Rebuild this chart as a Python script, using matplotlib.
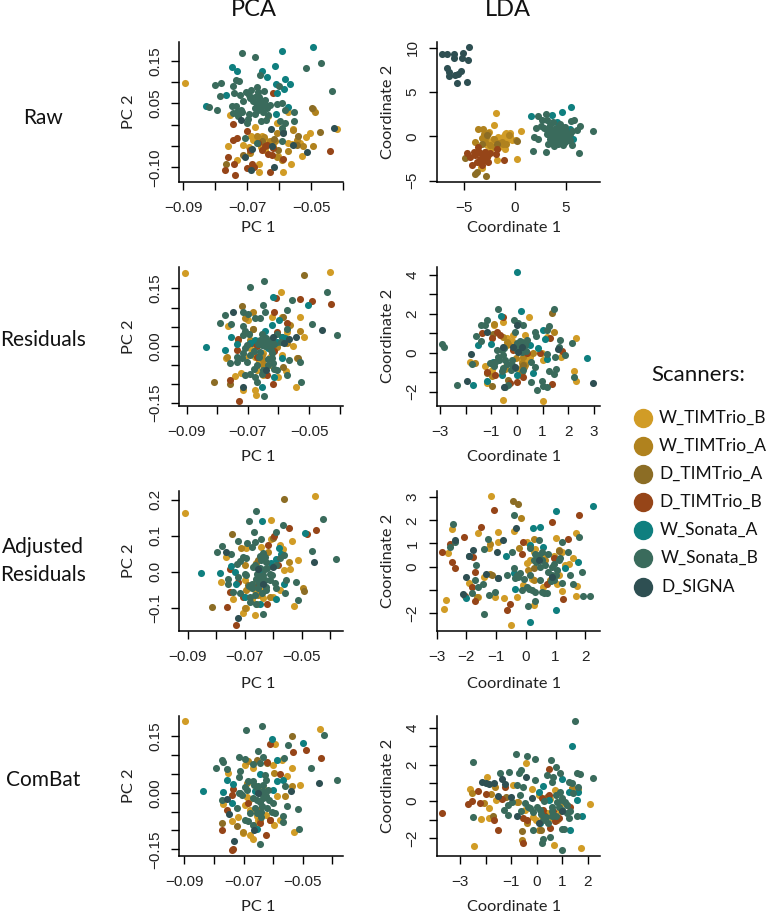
import matplotlib
matplotlib.use("Agg")
import matplotlib.pyplot as plt

W, H = 767, 913
SERIES = ["W_TIMTrio_B", "W_TIMTrio_A", "D_TIMTrio_A", "D_TIMTrio_B", "W_Sonata_A", "W_Sonata_B", "D_SIGNA"]
COLORS = ["#D19C26", "#B0821E", "#8C6D25", "#964518", "#0F7F7F", "#3A6B5C", "#2E4F52"]

# ---------- Raw PCA ----------
raw_pca_wtb = [(-.0894,.098),(-.0677,-.005),(-.069,-.026),(-.0681,-.035),(-.0712,-.047),(-.076,-.049),(-.0733,-.082),(-.0663,-.091),(-.0664,-.112),(-.059,-.112),(-.0565,-.093),(-.053,-.074),(-.0518,-.029),(-.0504,-.020),(-.0421,-.010),(-.0558,-.010),(-.0535,-.043),(-.0608,.005),(-.0635,.021),(-.0754,.023),(-.0655,-.027),(-.0645,-.059),(-.0603,-.074),(-.0573,-.043),(-.0658,-.051),(-.0572,.029),(-.0629,-.043),(-.0696,-.051),(-.0645,-.035),(-.0675,-.03),(-.0665,-.04),(-.062,-.05),(-.056,-.045)]
raw_pca_wta = [(-.0489,.030),(-.0496,.038),(-.0556,-.012),(-.0648,-.029),(-.0608,-.020),(-.0608,-.076),(-.0572,-.062),(-.0629,-.037),(-.0593,-.082),(-.0525,-.049),(-.0494,-.049),(-.0671,-.027),(-.0614,-.039),(-.0692,-.066),(-.0546,-.035)]
raw_pca_dta = [(-.0473,-.017),(-.0499,.039),(-.0766,-.091),(-.0618,-.034),(-.0655,-.039),(-.0546,-.047),(-.0603,-.059),(-.0541,-.026),(-.0712,-.070)]
raw_pca_dtb = [(-.0621,.074),(-.0745,.002),(-.0702,-.014),(-.0733,-.030),(-.0746,-.035),(-.0761,-.075),(-.0743,-.091),(-.0771,-.105),(-.074,-.119),(-.0701,-.101),(-.0686,-.092),(-.0679,-.099),(-.0629,-.112),(-.0442,-.062),(-.0666,-.043),(-.0640,-.047),(-.0634,-.068),(-.0588,-.080),(-.0692,-.060),(-.0624,-.072),(-.0645,-.05),(-.062,-.055),(-.0655,-.06)]
raw_pca_wsa = [(-.0496,.1825),(-.0591,.172),(-.0748,.135),(-.0731,.126),(-.0613,.137),(-.0653,.127),(-.064,.112),(-.0582,.108),(-.0610,.095),(-.0567,.095),(-.0585,.083),(-.0767,.070),(-.083,.044),(-.0607,.074),(-.0572,.042),(-.0611,.026)]
raw_pca_wsb = [(-.0717,.168),(-.0675,.160),(-.047,.144),(-.0517,.134),(-.0436,.080),(-.0735,.105),(-.0727,.102),(-.0660,.116),(-.0802,.094),(-.0782,.098),(-.06,.091),(-.0786,.067),(-.0819,.041),(-.0796,.035),(-.0744,.090),(-.0742,.074),(-.0723,.070),(-.0705,.078),(-.069,.082),(-.0669,.088),(-.0667,.076),(-.0647,.080),(-.0712,.055),(-.0692,.062),(-.0676,.066),(-.0681,.055),(-.0671,.047),(-.066,.058),(-.0645,.057),(-.0655,.043),(-.0666,.035),(-.065,.031),(-.064,.039),(-.0629,.047),(-.0608,.049),(-.0593,.052),(-.0749,.043),(-.0733,.031),(-.0744,.027),(-.0718,.031),(-.0728,.021),(-.0721,.035),(-.0697,.013),(-.0676,.026),(-.07,.004),(-.0658,.010),(-.0642,.012),(-.0598,.010),(-.0582,.004),(-.0554,.010),(-.0554,.029),(-.0593,-.008),(-.0588,-.016),(-.0707,-.031),(-.0671,-.043),(-.0593,-.039),(-.0582,.035),(-.0665,.05),(-.066,.04),(-.0655,.05),(-.0675,.04),(-.064,.045),(-.0695,.07),(-.0665,.065),(-.0695,.025),(-.0635,.022),(-.0735,.045)]
raw_pca_dsg = [(-.0721,.012),(-.0626,-.009),(-.0588,-.020),(-.0428,-.008),(-.0515,-.065),(-.0616,-.099),(-.0687,-.107),(-.0706,-.076),(-.0686,-.057),(-.0624,-.049),(-.0556,-.047)]

# ---------- Raw LDA ----------
raw_lda_wtb = [(-1.88,2.63),(-2.11,1.24),(.59,.56),(.23,-2.56),(-.46,.34),(-.89,.38),(-1.74,-2.71),(-3.29,-3.53),(-1.32,-.26),(-2.14,-.26),(-.82,-.45),(-1.81,-1.02),(-2.47,-1.58),(-.99,-1.39),(-2.8,-1.02),(-1.64,-.08),(-2.63,-2.14),(-2.3,-.9),(-2,-.6),(-1.5,-.5),(-1.2,-.1),(-.5,.1),(-1,.3),(-2.4,-.7),(-1.6,-1.2),(-.7,-.3),(-.3,-.4),(-2.6,.5),(-3.1,-2.4),(-3.4,-3.4),(-2.9,-.4)]
raw_lda_wta = [(-3.68,.83),(-3.13,.86),(-2.63,.38),(-2.86,-.08),(-3.95,-.64),(-2.96,-.64),(-1.97,-1.20),(-1.15,-.83),(.10,-.45),(-3.62,-1.77),(-2.47,-1.02),(-1.3,-.6),(-.9,-.9),(-2.1,-.3),(-1.7,-.7),(-3.3,-.2),(-3.1,.3),(-.6,.2)]
raw_lda_dta = [(-2.86,-4.51),(-3.98,-4.21),(-4.93,-2.41),(-2.8,.11),(-3.29,-.83),(-1.81,-.83),(.23,-.56),(-2.96,-1.77),(-3.78,-4.02)]
raw_lda_dtb = [(-1.05,-2.67),(-4.77,-1.88),(-4.44,-2.33),(-4.28,-3.2),(-3.78,-2.89),(-2.96,-2.71),(-3.45,-2.52),(-2.8,-2.33),(-3.62,-1.2),(-1.88,-1.95),(-3.95,-2.14),(-3.29,-3.27),(-2.63,-2.89),(-3.3,-2),(-3.6,-1.7),(-3.0,-1.7),(-3.2,-2.4),(-4,-1.8),(-3.5,-2.9),(-2.5,-1.9),(-1.8,-1.4)]
raw_lda_wsa = [(5.49,3.35),(4.61,2.74),(1.61,2.29),(3.62,2.37),(5.76,-.26),(4.11,1.62),(5.43,.86)]
raw_lda_wsb = [(7.73,.56),(6.35,-1.88),(1.78,-1.65),(3.03,-1.77),(2.04,.94),(3.06,2.56),(2.30,2.26),(2.63,1.80),(6.41,1.20),(5.82,1.88),(5.49,1.73),(6.15,.75),(1.88,-.08),(2.30,-.26),(3.13,.68),(3.45,1.24),(3.13,1.80),(3.78,1.62),(4.44,1.43),(4.93,1.05),(5.43,.30),(3.62,.68),(4.11,.49),(4.61,.68),(3.62,-.08),(4.11,-.08),(4.61,-.08),(5.10,-.08),(3.95,-.64),(4.44,-.64),(4.93,-.64),(3.29,-.90),(3.88,-1.13),(5.59,-1.02),(4.77,-1.02),(3.13,.30),(3.78,.30),(4.28,.23),(4.93,.30),(4.61,1.05),(5.26,-.45),(3.3,.3),(3.5,-.3),(3.9,.2),(4.3,.6),(4.7,.2),(4.5,-.4),(5,.1),(5.2,.3),(4.2,-.9),(3.7,-.7),(4.0,1.0),(4.8,-.3),(3.4,1.0),(4.9,.7),(5.4,-.4),(2.9,.9),(2.6,1.2),(5.6,.6)]
raw_lda_dsg = [(-7.24,9.29),(-6.68,9.25),(-6.02,9.32),(-6.02,8.87),(-5.1,9.44),(-4.51,10.04),(-5.23,8.87),(-4.6,8.61),(-6.68,7.74),(-6.51,7.26),(-5.92,6.95),(-5.36,7.37),(-6.48,6.77),(-5.59,7.07),(-5.76,6.02),(-4.74,6.09)]

# ---------- Residuals PCA ----------
res_pca_wtb = [(-.0904,.191),(-.0432,.194),(-.0592,.140),(-.0529,.074),(-.0516,.022),(-.0764,.052),(-.0551,-.001),(-.0698,.067),(-.0622,.076),(-.0589,.076),(-.0684,.043),(-.0771,-.031),(-.0709,-.029),(-.0743,-.080),(-.0723,-.071),(-.0717,-.116),(-.0677,-.116),(-.0674,-.129),(-.0541,-.107),(-.0649,-.077),(-.0576,-.066),(-.06,-.083),(-.0671,-.064),(-.0627,-.029),(-.0589,-.024),(-.0649,-.020),(-.0677,-.029),(-.0638,.015),(-.0573,.037),(-.0693,-.007),(-.0665,-.04),(-.0625,-.05),(-.0695,.03)]
res_pca_wta = [(-.0529,.039),(-.0562,.054),(-.0682,.089),(-.0709,.072),(-.0655,-.024),(-.0606,-.003),(-.0731,.015),(-.0769,-.029),(-.0649,-.051),(-.0573,.006),(-.0540,-.033),(-.0693,.015),(-.0649,-.038)]
res_pca_dta = [(-.0518,.185),(-.0718,.104),(-.0811,-.095),(-.0758,-.1),(-.0682,.043),(-.0535,-.033),(-.0584,.076),(-.0584,-.055),(-.066,.006)]
res_pca_dtb = [(-.0608,.124),(-.0529,.122),(-.049,.116),(-.0429,.108),(-.0614,.087),(-.0571,.059),(-.0589,.024),(-.0731,.017),(-.0734,-.01),(-.0687,.006),(-.0758,-.09),(-.0728,-.144),(-.0617,-.1),(-.0636,-.077),(-.0671,-.029),(-.0606,.037),(-.067,.0),(-.0615,-.015)]
res_pca_wsa = [(-.0838,-.004),(-.0618,.128),(-.0503,.106),(-.0598,.067),(-.0621,.054),(-.0755,.022),(-.0775,-.01),(-.0737,.004),(-.0644,.038),(-.0589,.022),(-.0578,.019),(-.0606,.010),(-.0677,.015),(-.0654,-.107),(-.0616,-.081),(-.0589,-.031),(-.0693,.006),(-.0633,-.007)]
res_pca_wsb = [(-.0694,.153),(-.0647,.169),(-.0442,.141),(-.0557,.120),(-.0651,.107),(-.0573,.094),(-.0717,.087),(-.0698,.083),(-.0643,.089),(-.0775,.080),(-.079,.059),(-.0755,.057),(-.049,.057),(-.0409,.028),(-.0717,.052),(-.0709,.039),(-.0715,.028),(-.0677,.072),(-.066,.072),(-.0573,.043),(-.0529,-.042),(-.0566,-.038),(-.0527,-.095),(-.0647,-.131),(-.0571,-.077),(-.0758,-.045),(-.0737,-.042),(-.0709,-.007),(-.0703,.002),(-.0709,-.077),(-.0693,-.073),(-.0677,-.081),(-.0671,-.094),(-.0671,-.051),(-.0622,-.033),(-.0617,-.046),(-.0606,-.064),(-.066,.015),(-.0649,.006),(-.0633,.01),(-.0622,.015),(-.0644,.019),(-.0655,.002),(-.0627,-.003),(-.0622,-.02),(-.066,-.016),(-.0693,-.024),(-.0720,-.033),(-.0649,-.064),(-.0633,-.051),(-.0704,-.042),(-.0655,.012),(-.0645,-.002),(-.0635,.008),(-.0668,.004),(-.068,-.015),(-.0615,.005),(-.064,.02),(-.0625,-.012),(-.0665,-.03),(-.068,-.06),(-.0635,-.035),(-.0615,-.06),(-.0695,.03),(-.0655,.03),(-.0715,-.02),(-.0735,-.03),(-.0605,.03),(-.059,.01),(-.0655,-.075)]
res_pca_dsg = [(-.075,.087),(-.0715,-.107),(-.0456,.041),(-.0542,.024),(-.0564,.017),(-.0582,.006),(-.0617,.022),(-.0641,-.064)]

# ---------- Residuals LDA ----------
res_lda_wtb = [(-.56,-2.4),(1.03,-2.47),(2.3,-1.43),(2.21,-.94),(2.3,.73),(1.72,-.2),(.46,1.81),(-.53,1.58),(-.9,1.41),(-1.84,-.49),(-1.25,-.66),(-1.16,-1.53),(-.99,-.89),(-.4,.73),(-.14,.9),(.31,.9),(1.03,-.37),(1.16,.82),(-.47,-.72),(.18,-.37),(.51,-.2),(.96,-.03),(.05,-1.14),(-.4,.4),(-.2,.6),(.1,-.9),(.3,-.4)]
res_lda_wta = [(-.9,1.45),(-.53,.82),(-1.64,-.55),(-.99,-1.19),(.18,-.72),(.31,-.63),(1.45,1.07),(-.4,.56),(.25,-.2),(.64,-.03),(-.05,-.29),(-.35,.45),(.2,-.55),(.28,-.75),(-.45,-.85)]
res_lda_dta = [(1.37,2.04),(-.99,-1.7),(-.92,.95),(.25,-.63),(.18,-.97),(-1.18,-1.06),(-.34,-1.4)]
res_lda_dtb = [(-.53,1.81),(-1.37,.99),(-.79,1.07),(-.66,.9),(-.99,.73),(-.14,.14),(.38,-.03),(-1.18,-.97),(.25,-1.23),(-.01,-1.48),(-.27,-1.53),(1.35,-1.6),(1.74,.1),(1.29,.73),(-.86,-1.14),(.9,-.03)]
res_lda_wsa = [(0,4.14),(.17,2.13),(-.63,1.87),(2.72,-.29),(-1.73,-1.67),(1,1.16),(-1.03,.44),(-1.52,.37),(.83,.22),(1.16,-.34),(-.6,-1.14),(-1.18,-1.43),(-.01,-1.14),(.64,-1.06),(-.92,-.46),(.51,.39),(1.09,.68)]
res_lda_wsb = [(-.73,2.23),(1.43,2.25),(-2.94,.43),(-2.83,.27),(-2.33,-1.67),(-1.18,1.67),(-1.41,1.41),(-1.25,1.41),(-1.61,.85),(-1.42,.6),(-.12,1.67),(.05,1.5),(.25,1.41),(1.24,1.38),(1.16,1.16),(.7,1.07),(1.68,.65),(1.65,.27),(2.16,.48),(1.88,-.12),(1.48,-.2),(1.18,-.07),(1.25,-.92),(1.54,-.83),(1.46,-1.11),(2.24,-1.23),(.99,-1.43),(1.16,-1.74),(1,-1.7),(.77,-1.93),(.56,-1.52),(-.47,-1.74),(-.34,-1.67),(-1.77,-.58),(.7,-.72),(-.01,.48),(.18,.56),(.31,.39),(.12,.22),(.38,.65),(-.01,.14),(-.79,.14),(-.6,.14),(-.73,-.2),(-.47,-.37),(-.86,-.46),(-.21,-.63),(-.08,-.8),(-.53,-.8),(-.08,1.07),(.05,.2),(.2,.45),(.35,.1),(.2,.05),(-.1,.3),(.1,.6),(-.7,-.4),(-.55,-.1),(-.4,-.6),(-.25,-.9),(-.6,-.95),(-.9,-.7),(-1.05,-.55),(.25,-.9),(.55,-.5),(.75,.85),(-.2,-.35),(-.5,.25)]
res_lda_dsg = [(2.98,-1.57),(-1.93,-1.47),(-1.81,-.07),(-.14,.31),(.05,.05),(.18,.31),(-.53,.27),(-1.18,1.07),(-.01,1.41),(-.08,-.72),(-.49,-1.74),(1.61,.17)]

# ---------- Adjusted Residuals PCA ----------
adj_pca_wtb = [(-.0909,.164),(-.0454,.211),(-.0606,.143),(-.0534,.086),(-.0512,.032),(-.0782,-.029),(-.0742,-.075),(-.0706,-.114),(-.0665,-.12),(-.0527,-.095),(-.0574,-.051),(-.0764,.042),(-.0694,.065),(-.0641,.07),(-.0577,.074),(-.0542,.009),(-.06,-.07),(-.0636,-.074),(-.0688,-.046),(-.07,-.023),(-.0653,-.005),(-.056,.005),(-.0606,.09),(-.0665,-.051),(-.0565,.063),(-.0694,-.102),(-.0665,-.03),(-.064,-.055),(-.0675,-.075),(-.0655,-.09)]
adj_pca_wta = [(-.0544,.028),(-.0712,.065),(-.0618,.056),(-.0659,.023),(-.0694,-.051),(-.0612,-.07),(-.0495,-.046),(-.07,.019),(-.0653,-.065),(-.07,-.102)]
adj_pca_dta = [(-.056,.203),(-.0744,.105),(-.0815,-.098),(-.049,-.053),(-.0653,.033),(-.06,.093),(-.0688,-.037)]
adj_pca_dtb = [(-.0544,.123),(-.0481,.106),(-.0448,.116),(-.0597,.099),(-.0618,.074),(-.0761,-.099),(-.0729,-.149),(-.0622,-.091),(-.0753,-.056),(-.0706,-.07),(-.0753,.007),(-.0723,-.028),(-.0583,.019),(-.0653,-.037)]
adj_pca_wsa = [(-.0854,-.003),(-.0788,-.004),(-.064,.142),(-.0489,.107),(-.0749,.017),(-.0733,0),(-.0732,-.035),(-.0579,.067),(-.0571,.049),(-.0589,.035),(-.0606,.025),(-.0641,0),(-.0591,-.076),(-.056,-.033),(-.0647,-.091),(-.07,-.07)]
adj_pca_wsb = [(-.0659,.169),(-.0684,.142),(-.0426,.146),(-.0564,.13),(-.0666,.111),(-.0591,.11),(-.0779,.071),(-.0796,.054),(-.0749,.049),(-.0722,.085),(-.0691,.079),(-.0665,.084),(-.0673,.07),(-.0642,.09),(-.0462,.059),(-.0377,.035),(-.0706,.042),(-.0694,.037),(-.0727,.021),(-.0758,-.021),(-.0758,-.033),(-.0723,-.014),(-.07,-.005),(-.0519,-.028),(-.0513,-.079),(-.0637,-.119),(-.0554,-.023),(-.0557,-.06),(-.0589,-.046),(-.0741,-.056),(-.0718,-.06),(-.0682,-.07),(-.0682,-.084),(-.0659,-.091),(-.0636,.051),(-.0641,.033),(-.0624,.028),(-.0612,-.005),(-.063,.009),(-.0647,-.019),(-.063,-.023),(-.0659,-.019),(-.0612,-.023),(-.0653,-.046),(-.0624,-.042),(-.056,.046),(-.0577,.037),(-.0671,.014),(-.0589,.019),(-.0645,.01),(-.0635,-.01),(-.0655,-.005),(-.062,.01),(-.065,-.03),(-.064,-.06),(-.0665,-.065),(-.0675,-.035),(-.0665,.02),(-.063,.04),(-.0625,-.05),(-.0675,-.045),(-.0645,.045),(-.0605,-.01),(-.0595,-.03),(-.0685,-.04),(-.0715,.03),(-.0695,-.01)]
adj_pca_dsg = [(-.0722,-.128),(-.0455,.028),(-.0764,.056),(-.0653,.009),(-.0636,-.033),(-.06,.014)]

# ---------- Adjusted Residuals LDA ----------
adj_lda_wtb = [(-1.17,3.05),(-2.48,1.63),(-1.61,1.47),(-.94,1.5),(-.94,1.05),(-.38,1.55),(-2.62,.6),(-1.25,.79),(-2.67,-1.45),(-2.74,-1.84),(-1.9,-.72),(-1.61,-1.29),(-1.4,-.43),(-1.05,-1.32),(-.74,-1.34),(-.29,-1.32),(-.5,-2.53),(.26,-1.67),(1.68,-1.27),(1.72,-.85),(1.7,1.44),(1.02,1.22),(1.58,.37),(.03,1.08),(.26,.65),(.03,.14),(.15,.29),(1.23,-1.04),(1.45,.12),(1.21,.65),(-.08,-.79),(.59,-.86),(1.1,-.36),(1.32,.07),(.3,.75),(.6,.4),(1.05,-.75),(.95,.45),(.2,-.55)]
adj_lda_wta = [(-1.64,-1.29),(-.17,2.09),(-1.2,.98),(.26,1.18),(-.22,.79),(.65,.29),(1.13,.72),(.26,-.58),(.06,-.14),(.98,.36),(-1.2,-.33),(.82,-.58)]
adj_lda_dta = [(-.43,2.85),(-.27,2.69),(1.13,.69),(.26,-.07),(-1.14,-.36)]
adj_lda_dtb = [(-1.07,2.45),(-1.52,1.7),(-2.06,1.27),(-2.81,.65),(-2.48,.22),(-2.37,-.07),(-2.54,.98),(-1.76,.43),(-1.69,-.23),(-2.04,-1.27),(-1.69,-1.47),(-.53,-1.63),(-.63,-1.87),(.88,1.94),(1.79,2.23),(1.41,1.19),(1.25,-1.4),(-.08,1.08),(-.13,.53),(.7,-.75),(-1.81,-.86),(.93,.36)]
adj_lda_wsa = [(2.27,2.6),(1.01,2.4),(.47,1.73),(.23,1.65),(-.67,.47),(.59,.86),(1.74,.2),(1.02,-1.86),(.13,-2.4),(-.36,-.98),(-2.02,-1.37),(.15,.94),(-.41,-.29),(1.32,-.07)]
adj_lda_wsb = [(-2.44,1.84),(-.4,2.23),(-2.37,1.05),(-2.56,.86),(-1.28,1.18),(-1.4,.75),(-.47,.62),(1.21,1.08),(1.79,1.27),(1.42,.65),(1.9,-.23),(1.57,-.76),(1.92,-1.25),(2.14,-1.28),(-1.4,-2.03),(.08,-1.71),(.31,-1.47),(-1.81,-1.15),(-1.7,-.58),(-1.59,-.86),(-1.42,-.75),(-1.67,.06),(-1.92,.46),(-1.25,-1.22),(-1.03,-1.08),(-.64,-.36),(-.92,-.5),(-.41,-.07),(-.36,-.5),(-.19,-.29),(.15,-.36),(-.13,-1.01),(.03,-.86),(.31,-1.08),(.54,-1.08),(.7,-1.15),(.15,.79),(.37,.5),(.54,.29),(.43,1.15),(.76,.55),(.87,0),(.87,-.36),(1.15,.36),(1.04,-.14),(1.49,-.36),(1.21,-.72),(.48,-.58),(.26,.29),(.48,0),(.93,-.58),(.3,.55),(.45,.4),(.35,.2),(.55,.65),(.65,.05),(.75,-.25),(.85,-.6),(.95,.1),(1.1,.3),(1.0,-.35),(-.25,-.45),(-.05,-.55),(.1,-.95),(.2,-1),(.6,-1.15),(-.3,-.35)]
adj_lda_dsg = [(-.34,1.65),(-.95,.65),(-.75,1.14),(-1.78,.71),(-1.32,-.32),(-2.02,-.43),(-2.11,-1.17),(-1.92,.46),(-2.37,1.14),(-.94,-.47),(.43,.29),(.87,-.43)]

# ---------- ComBat PCA ----------
cb_pca_wtb = [(-.0897,.191),(-.0442,.169),(-.0595,.128),(-.0535,.065),(-.0509,.02),(-.0753,.052),(-.0528,-.105),(-.0597,-.085),(-.0667,-.123),(-.0703,-.107),(-.0678,-.112),(-.074,-.074),(-.0718,-.065),(-.0768,-.029),(-.0689,-.012),(-.0695,.074),(-.0669,.065),(-.0599,.074),(-.0571,.086),(-.0554,.043),(-.0577,-.072),(-.065,-.072),(-.0678,-.045),(-.0656,-.063),(-.0633,.012),(-.0695,-.032),(-.0588,-.01),(-.068,-.02),(-.0655,-.05),(-.0665,-.085),(-.0625,-.06)]
cb_pca_wta = [(-.0689,.026),(-.0597,.052),(-.0535,.017),(-.0684,.083),(-.065,-.045),(-.0703,-.103),(-.0644,-.072),(-.0611,-.072),(-.056,-.01)]
cb_pca_dta = [(-.0535,.15),(-.0772,-.079),(-.0723,-.087),(-.0653,.088),(-.0644,-.045),(-.0622,.079)]
cb_pca_dtb = [(-.0611,.13),(-.0533,.108),(-.0489,.114),(-.0438,.091),(-.0622,.081),(-.0734,-.149),(-.074,-.153),(-.0772,-.1),(-.0623,-.113),(-.0755,-.047),(-.0734,.01),(-.074,-.005),(-.0577,.05),(-.0611,-.073),(-.0684,-.027),(-.0644,-.081)]
cb_pca_wsa = [(-.0837,.005),(-.0768,.001),(-.0603,.142),(-.05,.131),(-.0588,.087),(-.0738,-.026),(-.0756,.035),(-.0734,.022),(-.0644,.05),(-.0588,.03),(-.0566,.035),(-.0656,-.096),(-.0661,.004),(-.0599,.006)]
cb_pca_wsb = [(-.0691,.166),(-.0637,.178),(-.0427,.153),(-.0549,.126),(-.0651,.111),(-.0634,.096),(-.0563,.093),(-.0715,.096),(-.0696,.09),(-.0774,.088),(-.0768,.081),(-.0792,.065),(-.0757,.064),(-.0471,.065),(-.0385,.035),(-.0712,.058),(-.0714,.042),(-.0667,.076),(-.0628,.048),(-.0644,.079),(-.0515,-.043),(-.0554,-.036),(-.0568,-.061),(-.0566,-.078),(-.0512,-.096),(-.0644,-.135),(-.0695,-.072),(-.0684,-.076),(-.0667,-.085),(-.0723,-.041),(-.0774,-.019),(-.0712,-.001),(-.0689,.006),(-.0667,.03),(-.065,.017),(-.0633,.021),(-.0616,.008),(-.0633,-.014),(-.0656,-.019),(-.0599,-.027),(-.0622,-.041),(-.0594,-.054),(-.0639,-.036),(-.0678,-.054),(-.0667,-.014),(-.056,.017),(-.0655,.012),(-.0645,.0),(-.0635,.005),(-.0625,-.01),(-.0645,-.025),(-.066,-.04),(-.064,-.05),(-.0665,.02),(-.0685,.03),(-.0695,.015),(-.0715,.0),(-.0625,.035),(-.0615,-.02),(-.0655,-.055),(-.0705,-.005),(-.0605,-.05),(-.064,-.065)]
cb_pca_dsg = [(-.0444,.025),(-.0733,-.127),(-.0748,-.056),(-.0755,-.017),(-.0541,.004),(-.065,-.001),(-.0665,-.098)]

# ---------- ComBat LDA ----------
cb_lda_wtb = [(-2.47,-2.46),(-2.6,.65),(-2.17,-.96),(-1.86,-.92),(-1.86,-.38),(-1.59,.05),(-1.93,1.34),(-.42,2.06),(.66,-2.41),(1.74,-2.57),(2.08,-.14),(1.63,.65),(-.03,-1.01),(-.2,.65),(-.78,-.02),(-.46,-.47),(.07,.34),(.39,-.65),(.72,.61),(.59,-.92),(-.91,.89),(-.39,-1.1),(.98,-.11),(.2,-.8),(-.15,-.85),(.5,.1),(.9,-.55)]
cb_lda_wta = [(-2.54,.43),(-1.8,.4),(-1.63,.8),(-2.08,-.11),(.07,-1.56),(-.59,-2.1),(.26,-.83),(.78,-1.01),(-.72,-.05),(-.39,-1.19),(1.37,.71)]
cb_lda_dta = [(-.56,-1.63),(.16,-1.56),(-1.72,-.8),(-1.2,.22),(.39,.25),(1.17,-.2)]
cb_lda_dtb = [(-3.7,-.65),(-2.67,-.14),(-2.54,.02),(-2.28,.58),(-2.21,-.07),(-1.99,.4),(-1.67,-1.05),(-1.5,-1.57),(-1.37,.11),(-1.25,.8),(-.52,-.92),(-.52,-2.28),(.46,1.75),(.51,-1.48),(.2,.16),(.46,.34),(.72,-1.1),(1.3,-.29),(.26,-.47),(-.39,-1.01),(.65,-.55),(.3,-.75),(.85,-.9)]
cb_lda_wsa = [(1.38,3.02),(1.28,-1.57),(1.77,-.83),(.23,.85),(.07,.53),(.46,.07),(.99,1.19),(1.63,.52),(1.24,.52),(.13,-1.19),(1.56,.07)]
cb_lda_wsb = [(1.48,4.36),(-2.49,2.12),(-2.49,-.85),(-.81,2.6),(-.38,2.48),(-.05,2.28),(.57,2.24),(.76,1.86),(-1.07,1.61),(-1.43,1.52),(-.62,1.7),(-.69,1.56),(-.07,1.16),(.89,1.52),(.39,1.43),(.65,1.34),(.59,1.07),(2.21,1.25),(1.59,1.56),(1.69,1.48),(1.24,1.07),(1.37,.98),(-.78,.89),(-.52,.76),(-.65,.34),(-.98,-.02),(-1.11,-.2),(-1.28,-.47),(-1.12,-.76),(-.62,-.51),(-.46,-.11),(-.26,-.38),(-.13,-1.56),(.98,-1.52),(.52,-1.95),(.2,-2.28),(.23,-2.04),(.99,-2.66),(1.07,-1.52),(1.56,-.8),(1.3,-.56),(.98,.07),(.78,-.02),(1.11,-.02),(.91,.52),(.13,-.47),(.59,-.56),(.26,-1.01),(1.17,-.65),(1.43,.43),(1.63,.8),(.59,-.83),(.15,-.7),(.35,-.85),(.6,-.3),(.85,-.3),(1.0,-.5),(1.2,-.2),(.75,.35),(.3,.0),(.0,-.3),(.45,-1.2),(.75,-.8),(1.0,.2),(-.35,-.3),(-.15,-.6),(1.25,-.9)]
cb_lda_dsg = [(-2.15,1.03),(-1.99,1.01),(-1.85,.92),(-1.69,.98),(-1.37,1.21),(-1.24,.92),(-1.52,.31),(-1.0,.25),(-.78,-.83),(-.42,1.3),(-.18,.16),(.98,-.56),(.07,-1.19)]

# ---------- axis definitions (ticks, labels) ----------
pc_xticks = [-.09, -.08, -.07, -.06, -.05, -.04]
pc_xlabels = ["\u22120.09", "", "\u22120.07", "", "\u22120.05", ""]
y15_ticks = [-.15, -.10, -.05, 0, .05, .10, .15]
y15_labels = ["\u22120.15", "", "", "0.00", "", "", "0.15"]

panels = [
    dict(box=(179.3, 343.3, 41.7, 181.7), xlim=(-.09125, -.04), ylim=(-.1336, .195),
         xt=pc_xticks, xl=pc_xlabels,
         yt=[-.10, -.05, 0, .05, .10, .15], yl=["\u22120.10", "", "", "0.05", "", "0.15"],
         pts=[raw_pca_wtb, raw_pca_wta, raw_pca_dta, raw_pca_dtb, raw_pca_wsa, raw_pca_wsb, raw_pca_dsg]),
    dict(box=(436.7, 600, 41.7, 181.7), xlim=(-7.73, 8.39), ylim=(-5.1, 10.67),
         xt=[-5, 0, 5], xl=["\u22125", "0", "5"],
         yt=[-5, 0, 5, 10], yl=["\u22125", "0", "5", "10"],
         pts=[raw_lda_wtb, raw_lda_wta, raw_lda_dta, raw_lda_dtb, raw_lda_wsa, raw_lda_wsb, raw_lda_dsg]),
    dict(box=(179.3, 343.3, 266.7, 406), xlim=(-.0924, -.0388), ylim=(-.158, .207),
         xt=pc_xticks, xl=pc_xlabels, yt=y15_ticks, yl=y15_labels,
         pts=[res_pca_wtb, res_pca_wta, res_pca_dta, res_pca_dtb, res_pca_wsa, res_pca_wsb, res_pca_dsg]),
    dict(box=(436.7, 600, 266.7, 406), xlim=(-3.13, 3.24), ylim=(-2.73, 4.4),
         xt=[-3, -2, -1, 0, 1, 2, 3], xl=["\u22123", "", "\u22121", "0", "1", "2", "3"],
         yt=[-2, -1, 0, 1, 2, 3, 4], yl=["\u22122", "", "0", "", "2", "", "4"],
         pts=[res_lda_wtb, res_lda_wta, res_lda_dta, res_lda_dtb, res_lda_wsa, res_lda_wsb, res_lda_dsg]),
    dict(box=(179.3, 343.3, 490.7, 631), xlim=(-.093, -.0353), ylim=(-.165, .2256),
         xt=pc_xticks, xl=pc_xlabels,
         yt=[-.1, 0, .1, .2], yl=["\u22120.1", "0.0", "0.1", "0.2"],
         pts=[adj_pca_wtb, adj_pca_wta, adj_pca_dta, adj_pca_dtb, adj_pca_wsa, adj_pca_wsb, adj_pca_dsg]),
    dict(box=(436.7, 600, 490.7, 631), xlim=(-2.99, 2.49), ylim=(-2.78, 3.28),
         xt=[-3 + .01, -2, -1, 0, 1, 2], xl=["\u22123", "\u22122", "\u22121", "0", "1", "2"],
         yt=[-2, -1, 0, 1, 2, 3], yl=["\u22122", "", "0", "1", "2", "3"],
         pts=[adj_lda_wtb, adj_lda_wta, adj_lda_dta, adj_lda_dtb, adj_lda_wsa, adj_lda_wsb, adj_lda_dsg]),
    dict(box=(179.3, 343.3, 716.3, 855.7), xlim=(-.0917, -.0363), ylim=(-.167, .2026),
         xt=pc_xticks, xl=pc_xlabels, yt=y15_ticks, yl=y15_labels,
         pts=[cb_pca_wtb, cb_pca_wta, cb_pca_dta, cb_pca_dtb, cb_pca_wsa, cb_pca_wsb, cb_pca_dsg]),
    dict(box=(436.7, 600, 716.3, 855.7), xlim=(-3.91, 2.47), ylim=(-2.97, 4.63),
         xt=[-3, -2, -1, 0, 1, 2], xl=["\u22123", "", "\u22121", "0", "1", "2"],
         yt=[-2, -1, 0, 1, 2, 3, 4], yl=["\u22122", "", "0", "", "2", "", "4"],
         pts=[cb_lda_wtb, cb_lda_wta, cb_lda_dta, cb_lda_dtb, cb_lda_wsa, cb_lda_wsb, cb_lda_dsg]),
]

row_labels = [("Raw", 118), ("Residuals", 340), ("Adjusted\nResiduals", 561), ("ComBat", 780)]
xlab_y = [228, 456.5, 684, 907]
legend_y = [418, 445.7, 474, 501.7, 530, 558, 586.7]
legend_x = [658.3, 658.3, 659.3, 659.3, 660, 661, 661.7]

UI = "Lato"
TICK = "Liberation Sans"

fig = plt.figure(figsize=(W / 100, H / 100), dpi=100)

def px_text(x, y, s, **kw):
    kw.setdefault("ha", "center")
    kw.setdefault("va", "center")
    kw.setdefault("family", UI)
    fig.text(x / W, 1 - y / H, s, **kw)

for i, p in enumerate(panels):
    l, r, t, b = p["box"]
    ax = fig.add_axes([l / W, 1 - b / H, (r - l) / W, (b - t) / H])
    for pts, col in zip(p["pts"], COLORS):
        xs = [q[0] for q in pts]
        ys = [q[1] for q in pts]
        ax.scatter(xs, ys, s=26, color=col, linewidths=0, clip_on=False, zorder=3)
    ax.set_xlim(*p["xlim"])
    ax.set_ylim(*p["ylim"])
    ax.spines["top"].set_visible(False)
    ax.spines["right"].set_visible(False)
    for s in ("left", "bottom"):
        ax.spines[s].set_linewidth(1.1)
    ax.set_xticks(p["xt"])
    ax.set_xticklabels(p["xl"], family=TICK, fontsize=11, color="#222222")
    ax.set_yticks(p["yt"])
    ax.set_yticklabels(p["yl"], family=TICK, fontsize=11, color="#222222", rotation=90, va="center")
    ax.tick_params(axis="x", length=5.8, width=1.0, pad=8)
    ax.tick_params(axis="y", length=5.8, width=1.0, pad=6.5)
    row = i // 2
    if i % 2 == 0:
        px_text((l + r) / 2 - 3, xlab_y[row], "PC 1", fontsize=11.8, color="#222222")
        px_text(129, (t + b) / 2, "PC 2", fontsize=11.8, rotation=90, color="#222222")
    else:
        px_text((l + r) / 2 - 4, xlab_y[row], "Coordinate 1", fontsize=11.8, color="#222222")
        px_text(388, (t + b) / 2, "Coordinate 2", fontsize=11.8, rotation=90, color="#222222")

px_text(254, 9, "PCA", fontsize=17, color="#111111")
px_text(508, 9, "LDA", fontsize=17, color="#111111")
for s, y in row_labels:
    px_text(43, y, s, fontsize=15, color="#111111", linespacing=1.45)

# legend drawn in a full-figure overlay in pixel space
ov = fig.add_axes([0, 0, 1, 1], facecolor="none")
ov.set_xlim(0, W)
ov.set_ylim(H, 0)
ov.axis("off")
px_text(698, 375, "Scanners:", fontsize=16, color="#111111")
for name, col, y, x in zip(SERIES, COLORS, legend_y, legend_x):
    ov.scatter([642.7], [y], s=195, color=col, linewidths=0)
    px_text(x, y, name, ha="left", fontsize=12.5, color="#111111")

fig.savefig("out.png", dpi=100)
